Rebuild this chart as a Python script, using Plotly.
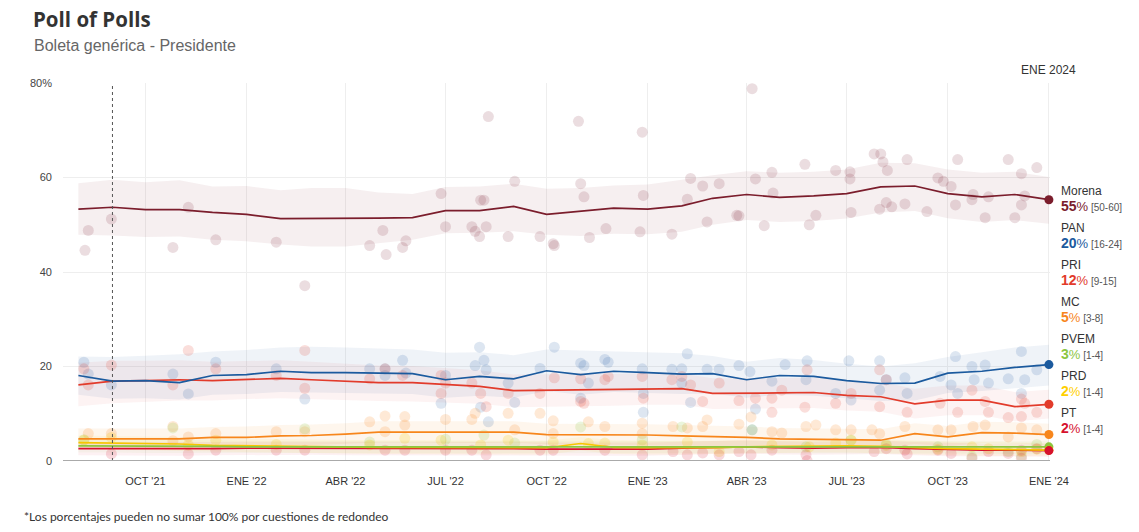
import plotly.graph_objects as go

# ---------------- data ----------------
months = ["2021-08-01", "2021-09-01", "2021-10-01", "2021-11-01", "2021-12-01",
          "2022-01-01", "2022-02-01", "2022-03-01", "2022-04-01", "2022-05-01",
          "2022-06-01", "2022-07-01", "2022-08-01", "2022-09-01", "2022-10-01",
          "2022-11-01", "2022-12-01", "2023-01-01", "2023-02-01", "2023-03-01",
          "2023-04-01", "2023-05-01", "2023-06-01", "2023-07-01", "2023-08-01",
          "2023-09-01", "2023-10-01", "2023-11-01", "2023-12-01", "2024-01-01"]

morena = [53.3, 53.7, 53.2, 53.2, 52.6, 52.2, 51.3, 51.3, 51.4, 51.4, 51.5, 53.0, 53.0, 53.9, 52.2,
          52.8, 53.5, 53.3, 54.0, 55.6, 56.4, 55.8, 56.1, 56.6, 58.0, 58.2, 56.6, 55.9, 56.4, 55.3]
morena_hi = [58.8, 59.5, 59.0, 59.4, 58.1, 58.2, 57.3, 57.8, 57.8, 56.8, 56.5, 58.0, 58.1, 58.7, 57.6,
             57.8, 58.3, 58.5, 59.5, 60.5, 61.3, 61.0, 61.2, 61.7, 63.1, 63.0, 61.7, 61.0, 61.2, 60.1]
morena_lo = [47.9, 47.7, 47.4, 47.5, 46.8, 46.5, 45.8, 45.4, 45.4, 46.1, 46.8, 48.2, 48.3, 48.6, 47.9,
             47.6, 48.1, 48.0, 48.5, 50.0, 51.0, 50.6, 50.8, 51.3, 52.6, 52.9, 51.4, 50.6, 51.0, 50.2]

pan = [18.1, 16.9, 17.0, 16.6, 18.1, 18.3, 19.0, 18.7, 18.7, 18.6, 18.5, 17.2, 17.9, 17.4, 19.1,
       18.3, 19.0, 18.7, 18.4, 18.5, 17.2, 18.1, 17.9, 17.0, 16.4, 16.5, 18.6, 19.0, 19.8, 20.4]
pan_hi = [22.1, 22.0, 22.3, 22.6, 23.2, 23.5, 24.0, 24.2, 24.0, 23.8, 23.6, 22.9, 23.0, 22.4, 23.6,
          23.4, 23.2, 23.0, 22.8, 22.2, 21.0, 21.8, 21.4, 20.6, 20.0, 20.7, 22.0, 23.0, 24.0, 24.6]
pan_lo = [14.0, 13.2, 13.3, 13.0, 14.0, 14.2, 14.6, 14.4, 14.4, 14.3, 14.2, 13.4, 13.8, 13.4, 14.8,
          14.0, 14.6, 14.4, 14.2, 14.3, 13.4, 14.0, 13.8, 13.2, 12.7, 12.8, 14.4, 14.8, 15.4, 16.0]

pri = [16.1, 16.9, 17.0, 17.2, 17.0, 17.3, 17.5, 17.2, 16.9, 16.6, 16.6, 16.2, 15.8, 14.9, 15.0,
       15.1, 15.1, 15.3, 15.3, 14.3, 14.3, 14.4, 14.5, 13.9, 13.6, 12.1, 12.9, 12.9, 11.5, 12.0]
pri_hi = [20.8, 21.2, 21.2, 21.3, 21.0, 21.2, 21.3, 21.0, 20.6, 20.2, 20.1, 19.7, 19.2, 18.3, 18.4,
          18.4, 18.4, 18.6, 18.5, 17.5, 17.5, 17.6, 17.6, 17.0, 16.7, 15.3, 16.0, 16.0, 14.6, 15.1]
pri_lo = [11.6, 12.2, 12.5, 12.8, 12.8, 13.1, 13.3, 13.1, 12.9, 12.7, 12.6, 12.4, 12.1, 11.4, 11.5,
          11.6, 11.7, 11.9, 11.9, 11.0, 11.0, 11.1, 11.2, 10.7, 10.4, 9.0, 9.7, 9.7, 8.4, 9.0]

mc = [4.7, 4.7, 4.7, 4.7, 5.0, 5.0, 5.3, 5.4, 5.7, 6.1, 6.1, 6.1, 6.0, 6.1, 5.6,
      5.6, 5.5, 5.5, 5.3, 5.2, 5.0, 4.7, 4.6, 4.4, 4.4, 5.8, 5.1, 6.0, 5.9, 5.6]
mc_hi = [6.9, 6.9, 6.9, 6.9, 7.2, 7.3, 7.6, 7.7, 8.0, 8.4, 8.4, 8.4, 8.3, 8.4, 7.9,
         7.9, 7.8, 7.8, 7.6, 7.5, 7.3, 7.0, 6.9, 6.7, 6.7, 8.0, 7.4, 8.3, 8.2, 7.9]
mc_lo = [2.9, 2.9, 2.9, 2.9, 3.1, 3.1, 3.3, 3.4, 3.6, 3.9, 3.9, 3.9, 3.8, 3.9, 3.5,
         3.5, 3.4, 3.4, 3.3, 3.2, 3.1, 2.9, 2.8, 2.7, 2.7, 3.6, 3.1, 3.8, 3.7, 3.4]

pvem = [3.2, 3.2, 3.1, 3.1, 3.1, 3.0, 3.0, 3.0, 3.0, 3.0, 3.1, 3.1, 3.1, 3.0, 3.0,
        3.0, 3.0, 3.0, 3.0, 3.0, 3.1, 3.1, 3.1, 3.1, 3.0, 3.0, 3.0, 3.0, 3.0, 3.0]
pvem_hi = [4.5, 4.5, 4.4, 4.4, 4.4, 4.3, 4.3, 4.3, 4.3, 4.3, 4.4, 4.4, 4.4, 4.3, 4.3,
           4.3, 4.3, 4.3, 4.3, 4.3, 4.4, 4.4, 4.4, 4.4, 4.3, 4.3, 4.3, 4.3, 4.2, 4.2]
pvem_lo = [1.8, 1.8, 1.7, 1.7, 1.7, 1.6, 1.6, 1.6, 1.6, 1.6, 1.7, 1.7, 1.7, 1.6, 1.6,
           1.6, 1.6, 1.6, 1.6, 1.6, 1.7, 1.7, 1.7, 1.7, 1.6, 1.6, 1.6, 1.5, 1.5, 1.4]

prd = [3.9, 3.8, 3.8, 3.6, 3.3, 3.2, 3.1, 3.1, 3.0, 2.9, 2.9, 2.9, 2.8, 2.8, 2.8,
       3.7, 2.9, 2.8, 2.8, 2.8, 3.0, 3.1, 3.2, 3.2, 3.1, 2.8, 2.6, 2.5, 2.4, 2.3]
prd_hi = [5.4, 5.3, 5.3, 5.1, 4.8, 4.7, 4.6, 4.6, 4.5, 4.4, 4.4, 4.4, 4.3, 4.3, 4.3,
          5.1, 4.4, 4.3, 4.3, 4.3, 4.5, 4.6, 4.7, 4.7, 4.6, 4.3, 4.1, 4.0, 3.9, 3.8]
prd_lo = [2.4, 2.3, 2.3, 2.1, 1.9, 1.8, 1.7, 1.7, 1.6, 1.5, 1.5, 1.5, 1.4, 1.4, 1.4,
          2.2, 1.5, 1.4, 1.4, 1.4, 1.6, 1.7, 1.8, 1.8, 1.7, 1.4, 1.2, 1.1, 1.0, 1.0]

pt = [2.6, 2.6, 2.5, 2.5, 2.6, 2.7, 2.7, 2.7, 2.6, 2.6, 2.6, 2.6, 2.6, 2.6, 2.5,
      2.5, 2.5, 2.5, 2.7, 2.9, 3.0, 2.8, 2.7, 2.8, 2.9, 2.6, 2.4, 2.3, 2.3, 2.2]
pt_hi = [4.0, 4.0, 3.9, 3.9, 4.0, 4.1, 4.1, 4.1, 4.0, 4.0, 4.0, 4.0, 4.0, 4.0, 3.9,
         3.9, 3.9, 3.9, 4.1, 4.3, 4.4, 4.2, 4.1, 4.2, 4.3, 4.0, 3.8, 3.7, 3.7, 3.6]
pt_lo = [1.2, 1.2, 1.1, 1.1, 1.2, 1.3, 1.3, 1.3, 1.2, 1.2, 1.2, 1.2, 1.2, 1.2, 1.1,
         1.1, 1.1, 1.1, 1.3, 1.5, 1.6, 1.4, 1.3, 1.4, 1.5, 1.2, 1.0, 0.9, 0.9, 0.9]

# individual polls
morena_poll_dates = ["2021-08-07", "2021-08-10", "2021-08-31", "2021-10-26", "2021-11-09", "2021-12-04",
                     "2022-01-28", "2022-02-23", "2022-04-23", "2022-05-05", "2022-05-08", "2022-05-23",
                     "2022-05-26", "2022-06-27", "2022-07-01", "2022-07-25", "2022-07-28", "2022-08-01",
                     "2022-08-02", "2022-08-05", "2022-08-07", "2022-08-09", "2022-08-27", "2022-09-02",
                     "2022-09-25", "2022-10-08", "2022-10-30", "2022-11-01", "2022-11-04", "2022-12-27",
                     "2022-12-28", "2023-02-06", "2023-02-09", "2023-02-20", "2023-03-07", "2023-03-25",
                     "2023-04-06", "2023-04-09", "2023-04-24", "2023-04-25", "2023-05-24", "2023-06-03",
                     "2023-06-21", "2023-07-04", "2023-07-04", "2023-07-05", "2023-07-26", "2023-08-01",
                     "2023-08-03", "2023-08-07", "2023-08-06", "2023-07-31", "2023-08-25", "2023-08-23",
                     "2023-09-22", "2023-09-27", "2023-10-04", "2023-10-08", "2023-10-10", "2023-10-24",
                     "2023-10-23", "2023-11-07", "2023-11-25", "2023-12-07", "2023-12-07", "2023-12-10",
                     "2023-12-21", "2022-10-07", "2022-11-09", "2022-11-24", "2022-12-25", "2023-01-23",
                     "2023-02-24", "2023-03-23", "2023-04-17", "2023-05-28", "2023-08-11", "2023-09-12",
                     "2023-11-04", "2023-12-01"]
morena_poll_vals = [44.6, 48.8, 51.2, 45.2, 53.7, 46.8,
                    46.3, 37.1, 45.6, 48.8, 43.7, 45.2,
                    46.6, 56.6, 49.6, 49.6, 48.6, 47.5,
                    55.2, 55.2, 49.6, 72.9, 47.5, 59.2,
                    47.5, 45.6, 71.9, 58.7, 55.9, 69.6,
                    56.2, 55.4, 59.8, 58.2, 58.7, 51.9,
                    78.8, 59.7, 61.1, 56.7, 62.8, 52.0,
                    61.5, 61.2, 59.7, 52.6, 65.0, 65.0,
                    63.3, 61.5, 54.7, 53.3, 63.8, 54.4,
                    59.9, 59.2, 58.1, 54.2, 63.8, 56.4,
                    55.3, 55.9, 63.8, 60.8, 54.2, 56.1,
                    62.1, 46.0, 47.3, 49.2, 48.5, 48.0,
                    50.6, 52.0, 49.8, 50.0, 53.8, 52.8,
                    51.5, 51.5]

pan_poll_dates = ["2021-08-06", "2021-08-10", "2021-08-31", "2021-10-26", "2021-11-09", "2021-12-04",
                  "2022-01-28", "2022-02-23", "2022-04-23", "2022-05-07", "2022-05-07", "2022-05-23",
                  "2022-05-26", "2022-06-27", "2022-07-01", "2022-07-28", "2022-08-01", "2022-08-05",
                  "2022-08-07", "2022-08-02", "2022-08-09", "2022-08-27", "2022-09-02", "2022-09-25",
                  "2022-10-08", "2022-11-01", "2022-11-04", "2022-11-08", "2022-11-01", "2022-11-23",
                  "2022-11-26", "2022-12-27", "2022-12-28", "2022-12-28", "2023-01-23", "2023-02-01",
                  "2023-02-01", "2023-02-06", "2023-02-09", "2023-02-24", "2023-03-07", "2023-03-25",
                  "2023-04-04", "2023-04-09", "2023-04-06", "2023-04-24", "2023-05-06", "2023-05-26",
                  "2023-05-25", "2023-06-21", "2023-07-03", "2023-07-05", "2023-07-31", "2023-07-31",
                  "2023-08-06", "2023-08-23", "2023-08-25", "2023-09-24", "2023-10-04", "2023-10-08",
                  "2023-10-10", "2023-10-23", "2023-11-04", "2023-10-25", "2023-11-07", "2023-11-25",
                  "2023-12-07", "2023-12-07", "2023-12-10", "2023-12-21"]
pan_poll_vals = [20.9, 18.4, 16.1, 18.4, 14.2, 20.9,
                 19.5, 13.1, 19.5, 18.1, 19.5, 21.3,
                 18.6, 12.2, 18.1, 20.2, 24.1, 21.3,
                 19.3, 11.4, 8.3, 16.5, 12.4, 19.6,
                 24.1, 20.7, 20.2, 16.5, 13.3, 21.5,
                 20.9, 19.5, 14.3, 10.3, 19.4, 19.5,
                 16.5, 22.7, 12.4, 19.4, 19.4, 20.2,
                 18.9, 11.0, 6.6, 16.9, 20.4, 21.2,
                 17.2, 14.3, 21.2, 12.9, 21.2, 15.0,
                 17.2, 17.6, 14.3, 17.9, 16.1, 22.1,
                 14.3, 20.0, 20.3, 17.2, 16.5, 17.4,
                 23.2, 14.3, 17.2, 19.3]

pri_poll_dates = ["2021-08-06", "2021-08-10", "2021-08-31", "2021-10-26", "2021-11-09", "2021-12-04",
                  "2022-01-28", "2022-02-23", "2022-02-23", "2022-04-23", "2022-05-07", "2022-05-23",
                  "2022-06-27", "2022-06-27", "2022-07-01", "2022-07-25", "2022-08-02", "2022-08-07",
                  "2022-08-27", "2022-09-25", "2022-10-08", "2022-11-01", "2022-11-01", "2022-11-04",
                  "2022-11-23", "2022-11-26", "2022-12-27", "2022-12-28", "2023-01-23", "2023-02-01",
                  "2023-02-09", "2023-02-20", "2023-03-07", "2023-03-25", "2023-04-09", "2023-04-24",
                  "2023-04-24", "2023-05-03", "2023-05-24", "2023-05-26", "2023-06-21", "2023-07-05",
                  "2023-07-31", "2023-07-31", "2023-08-06", "2023-08-25", "2023-09-24", "2023-10-10",
                  "2023-10-23", "2023-11-04", "2023-11-07", "2023-11-25", "2023-12-07", "2023-12-07",
                  "2023-12-10", "2023-12-21"]
pri_poll_vals = [19.5, 16.1, 20.3, 16.1, 23.4, 19.5,
                 18.1, 23.4, 15.4, 17.4, 19.5, 18.1,
                 18.1, 14.3, 16.5, 16.5, 14.3, 11.5,
                 14.3, 14.3, 17.6, 17.4, 12.6, 12.2,
                 17.2, 17.9, 17.9, 13.3, 17.2, 17.9,
                 16.1, 12.6, 16.5, 12.8, 13.3, 13.3,
                 10.3, 15.0, 11.4, 19.3, 12.2, 14.3,
                 19.3, 11.5, 17.2, 10.3, 12.2, 10.3,
                 15.0, 12.6, 10.3, 9.2, 9.4, 13.1,
                 12.2, 10.3]

mc_poll_dates = ["2021-08-10", "2021-08-31", "2021-10-26", "2021-10-26", "2021-11-09", "2021-12-04",
                 "2022-01-28", "2022-02-23", "2022-04-23", "2022-05-07", "2022-05-07", "2022-05-25",
                 "2022-05-25", "2022-07-01", "2022-07-25", "2022-07-28", "2022-08-27", "2022-09-02",
                 "2022-09-25", "2022-10-07", "2022-10-07", "2022-11-08", "2022-11-23", "2022-12-27",
                 "2022-12-27", "2023-01-24", "2023-02-06", "2023-02-20", "2023-02-24", "2023-03-25",
                 "2023-04-05", "2023-04-24", "2023-05-03", "2023-05-25", "2023-06-03", "2023-06-21",
                 "2023-07-05", "2023-07-24", "2023-07-31", "2023-08-23", "2023-09-22", "2023-10-04",
                 "2023-10-24", "2023-11-04", "2023-11-25", "2023-12-07", "2023-12-21"]
mc_poll_vals = [5.8, 5.8, 7.3, 4.3, 5.1, 5.8,
                6.2, 6.2, 8.3, 9.5, 6.2, 9.4,
                7.6, 8.8, 8.8, 10.1, 10.1, 6.6,
                10.1, 8.5, 5.8, 8.3, 7.3, 8.0,
                5.8, 7.3, 7.0, 7.3, 8.7, 7.8,
                9.3, 6.2, 5.9, 7.3, 7.6, 6.6,
                6.6, 6.6, 5.8, 7.3, 6.6, 6.6,
                7.3, 7.6, 5.1, 7.0, 6.6]

pvem_poll_dates = ["2021-08-06", "2021-10-26", "2022-02-23", "2022-04-23", "2022-07-01", "2022-08-05",
                   "2022-09-02", "2022-11-01", "2022-12-27", "2023-02-01", "2023-04-06", "2023-05-25",
                   "2023-07-05", "2023-08-06", "2023-09-22", "2023-10-23", "2023-11-25", "2023-12-07",
                   "2023-12-21"]
pvem_poll_vals = [4.5, 7.0, 6.8, 4.0, 4.6, 5.5,
                  3.8, 7.2, 4.5, 7.2, 6.6, 3.0,
                  4.4, 3.5, 3.0, 0.9, 2.0, 1.0,
                  3.5]

prd_poll_dates = ["2021-08-06", "2021-08-31", "2021-11-09", "2021-12-04", "2022-01-28", "2022-04-23",
                  "2022-05-25", "2022-06-27", "2022-08-02", "2022-08-27", "2022-10-07", "2022-11-08",
                  "2022-11-23", "2022-12-27", "2023-02-06", "2023-03-07", "2023-04-24", "2023-05-28",
                  "2023-06-21", "2023-07-05", "2023-08-06", "2023-09-22", "2023-10-23", "2023-11-07",
                  "2023-12-07", "2023-12-21"]
prd_poll_vals = [4.4, 5.0, 3.4, 4.4, 3.5, 3.4,
                 4.8, 4.4, 3.4, 4.4, 4.0, 3.7,
                 3.8, 3.4, 4.0, 2.0, 3.4, 3.0,
                 3.8, 4.4, 3.3, 2.5, 3.0, 2.6,
                 2.0, 2.5]

pt_poll_dates = ["2021-08-31", "2021-11-09", "2021-12-04", "2022-01-28", "2022-02-23", "2022-05-07",
                 "2022-05-25", "2022-07-01", "2022-07-25", "2022-08-07", "2022-09-25", "2022-10-07",
                 "2022-11-23", "2022-12-27", "2023-01-24", "2023-02-06", "2023-02-20", "2023-03-07",
                 "2023-03-25", "2023-04-05", "2023-04-24", "2023-05-25", "2023-05-26", "2023-07-26",
                 "2023-08-06", "2023-08-23", "2023-08-25", "2023-09-22", "2023-10-04", "2023-10-23",
                 "2023-11-07", "2023-11-25", "2023-12-07", "2023-12-07", "2023-12-21"]
pt_poll_vals = [1.5, 1.5, 2.3, 2.3, 2.3, 2.3,
                2.3, 2.3, 2.3, 1.3, 2.3, 2.3,
                2.3, 1.3, 2.0, 1.3, 1.7, 1.3,
                2.0, 1.3, 2.3, 1.3, 0.1, 2.0,
                2.6, 2.3, 1.5, 2.3, 1.6, 0.6,
                2.0, 1.6, 2.3, 0.6, 2.6]

party_names = ["Morena", "PAN", "PRI", "MC", "PVEM", "PRD", "PT"]
label_pcts = ["55", "20", "12", "5", "3", "2", "2"]
label_ranges = ["[50-60]", "[16-24]", "[9-15]", "[3-8]", "[1-4]", "[1-4]", "[1-4]"]

tick_dates = ["2021-10-01", "2022-01-01", "2022-04-01", "2022-07-01", "2022-10-01",
              "2023-01-01", "2023-04-01", "2023-07-01", "2023-10-01", "2024-01-01"]
tick_labels = ["OCT '21", "ENE '22", "ABR '22", "JUL '22", "OCT '22",
               "ENE '23", "ABR '23", "JUL '23", "OCT '23", "ENE '24"]
marker_date = "2021-09-01"

# ---------------- styling ----------------
colors = {"Morena": "#7b1d2c", "PAN": "#1b5a9e", "PRI": "#e23b2b", "MC": "#f7861c",
          "PVEM": "#8cc63f", "PRD": "#f7c600", "PT": "#d6122d"}
label_colors = {"Morena": "#7b1d2c", "PAN": "#1b5a9e", "PRI": "#e23b2b", "MC": "#f7861c",
                "PVEM": "#8cc63f", "PRD": "#ffd000", "PT": "#d6122d"}

def rgba(hexc, a):
    h = hexc.lstrip("#")
    return "rgba(%d,%d,%d,%.3f)" % (int(h[0:2], 16), int(h[2:4], 16), int(h[4:6], 16), a)

series = {
    "Morena": (morena, morena_lo, morena_hi, morena_poll_dates, morena_poll_vals, 0.07, 0.15),
    "PAN": (pan, pan_lo, pan_hi, pan_poll_dates, pan_poll_vals, 0.07, 0.15),
    "PRI": (pri, pri_lo, pri_hi, pri_poll_dates, pri_poll_vals, 0.06, 0.17),
    "MC": (mc, mc_lo, mc_hi, mc_poll_dates, mc_poll_vals, 0.08, 0.18),
    "PVEM": (pvem, pvem_lo, pvem_hi, pvem_poll_dates, pvem_poll_vals, 0.06, 0.18),
    "PRD": (prd, prd_lo, prd_hi, prd_poll_dates, prd_poll_vals, 0.07, 0.2),
    "PT": (pt, pt_lo, pt_hi, pt_poll_dates, pt_poll_vals, 0.06, 0.16),
}

fig = go.Figure()

for name in party_names:
    line, lo, hi, pd_, pv, band_a, dot_a = series[name]
    fig.add_trace(go.Scatter(x=months + months[::-1], y=hi + lo[::-1], fill="toself",
                             fillcolor=rgba(colors[name], band_a), line=dict(width=0),
                             mode="lines", hoverinfo="skip", showlegend=False))
for name in party_names:
    line, lo, hi, pd_, pv, band_a, dot_a = series[name]
    fig.add_trace(go.Scatter(x=pd_, y=pv, mode="markers",
                             marker=dict(size=11, color=rgba(colors[name], dot_a), line=dict(width=0)),
                             showlegend=False, name=name))
for name in reversed(party_names):
    line = series[name][0]
    fig.add_trace(go.Scatter(x=months, y=line, mode="lines",
                             line=dict(color=colors[name], width=1.7),
                             showlegend=False, name=name))
for name in party_names:
    line = series[name][0]
    fig.add_trace(go.Scatter(x=[months[-1]], y=[line[-1]], mode="markers",
                             marker=dict(size=9, color=colors[name]), cliponaxis=False,
                             showlegend=False, hoverinfo="skip"))

# ---------------- layout ----------------
W, H = 1139, 532
PLOT_L, PLOT_R, PLOT_T, PLOT_B = 63, 1050, 83, 461   # window pixels
L, T = PLOT_L, PLOT_T
R, B = W - PLOT_R, H - PLOT_B
pw, ph = W - L - R, H - T - B

def px_x(x):
    return (x - L) / pw

def px_y(y):
    return (H - B - y) / ph

ann = []
ann.append(dict(text="<b>Poll of Polls</b>", x=px_x(31), y=px_y(19), xref="paper", yref="paper",
                xanchor="left", yanchor="middle", showarrow=False,
                font=dict(family="Open Sans", size=20.5, color="#333")))
ann.append(dict(text="Boleta genérica - Presidente", x=px_x(32), y=px_y(46), xref="paper", yref="paper",
                xanchor="left", yanchor="middle", showarrow=False,
                font=dict(family="Liberation Sans, Arial", size=16, color="#666")))
ann.append(dict(text="ENE 2024", x=months[-1], y=px_y(70), xref="x", yref="paper",
                xanchor="center", yanchor="middle", showarrow=False,
                font=dict(family="Liberation Sans, Arial", size=12, color="#333")))
ann.append(dict(text="*Los porcentajes pueden no sumar 100% por cuestiones de redondeo",
                x=px_x(22), y=px_y(516), xref="paper", yref="paper",
                xanchor="left", yanchor="middle", showarrow=False,
                font=dict(family="Lato", size=12, color="#333")))

for i, name in enumerate(party_names):
    top = 191 + 37 * i
    ann.append(dict(text=name, x=px_x(1059), y=px_y(top), xref="paper", yref="paper",
                    xanchor="left", yanchor="middle", showarrow=False,
                    font=dict(family="Liberation Sans, Arial", size=12, color="#333")))
    c = label_colors[name]
    txt = ("<b><span style='font-size:14px;color:%s'>%s</span></b>"
           "<span style='font-size:13px;color:%s'>%%</span>"
           "<span style='font-size:10px;color:#555'> %s</span>") % (c, label_pcts[i], c, label_ranges[i])
    ann.append(dict(text=txt, x=px_x(1059), y=px_y(top + 15), xref="paper", yref="paper",
                    xanchor="left", yanchor="middle", showarrow=False,
                    font=dict(family="Liberation Sans, Arial", size=13, color=c)))

shapes = [
    dict(type="line", x0=marker_date, x1=marker_date, y0=0, y1=80, xref="x", yref="y",
         line=dict(color="#555", width=1, dash="dot"), layer="above"),
    dict(type="line", x0=0, x1=1, y0=0, y1=0, xref="paper", yref="y",
         line=dict(color="#aaa", width=2), layer="above"),
]

fig.update_layout(
    width=W, height=H,
    margin=dict(l=L, r=R, t=T, b=B),
    paper_bgcolor="white", plot_bgcolor="white",
    showlegend=False,
    annotations=ann, shapes=shapes,
    xaxis=dict(range=["2021-07-18", "2024-01-02"], tickvals=tick_dates, ticktext=tick_labels,
               showgrid=True, gridcolor="#eeeeee", gridwidth=1, zeroline=False, showline=False,
               ticks="", ticklabelstandoff=12,
               tickfont=dict(family="Liberation Sans, Arial", size=11, color="#333")),
    yaxis=dict(range=[0, 80], tickvals=[0, 20, 40, 60, 80], ticktext=["0", "20", "40", "60", "80%"],
               showgrid=True, gridcolor="#eeeeee", gridwidth=1, zeroline=False, showline=False,
               ticks="", ticklabelstandoff=10,
               tickfont=dict(family="Liberation Sans, Arial", size=11, color="#444")),
    hovermode="closest",
)

fig.write_html("out.html", config={"displayModeBar": False},
               post_script="document.body.style.margin='0px';")
